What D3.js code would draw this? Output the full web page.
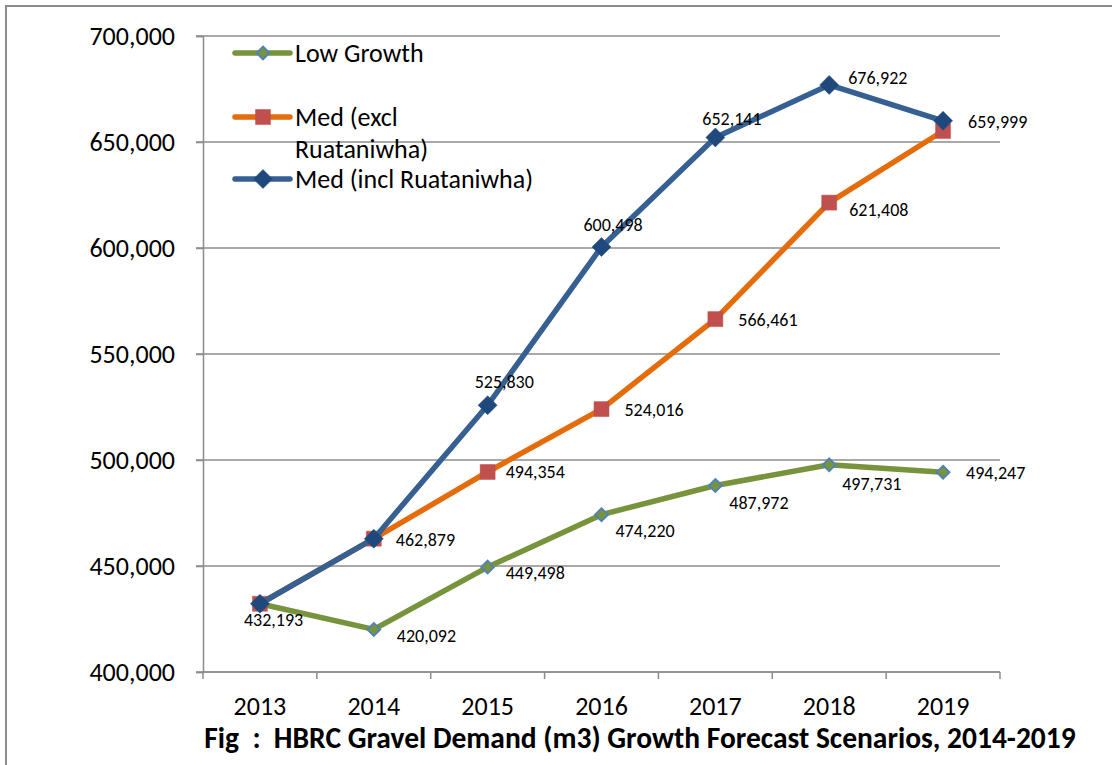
<!DOCTYPE html>
<html>
<head>
<meta charset="utf-8">
<script src="https://cdn.jsdelivr.net/npm/d3@7"></script>
<style>
  html, body { margin: 0; padding: 0; background: #ffffff; }
  svg { display: block; }
  text { font-family: Calibri, Carlito, Lato, "Open Sans", sans-serif; fill: #000; }
</style>
</head>
<body>
<svg id="chart" width="1112" height="765"></svg>
<script>
// Gravel demand forecasts (m3) by year
const years = ["2013", "2014", "2015", "2016", "2017", "2018", "2019"];
const lowGrowth = [432193, 420092, 449498, 474220, 487972, 497731, 494247];
const medExcl   = [432193, 462879, 494354, 524016, 566461, 621408, 655200];
const medIncl   = [432193, 462879, 525830, 600498, 652141, 676922, 659999];
const yTicks = [400000, 450000, 500000, 550000, 600000, 650000, 700000];

// Which points carry a value label, per series
const lowShown  = [true, true, true, true, true, true, true];
const exclShown = [false, true, true, true, true, true, false];
const inclShown = [false, false, true, true, true, true, true];

// Label nudges (dx, dy) from each point, text anchored at its start
const lowNudge  = [[-16, 22], [23, 13], [18, 12], [14, 22], [14, 24], [13, 25], [23, 7]];
const exclNudge = [[0, 0], [22, 7], [18, 6], [23, 7], [23, 7], [20, 13], [0, 0]];
const inclNudge = [[0, 0], [0, 0], [-13, -17], [-18, -16], [-13, -12], [19, -1], [25, 7]];

const svg = d3.select("#chart");
const plot = { left: 203, right: 1000, top: 36, bottom: 672 };
const gridColor = "#8c8c8c";
const axisFont = 26;

// Outer frame
svg.append("rect")
  .attr("x", 6).attr("y", 6)
  .attr("width", 1200).attr("height", 900)
  .attr("fill", "none")
  .attr("stroke", gridColor)
  .attr("stroke-width", 2);

const x = d3.scaleBand().domain(years).range([plot.left, plot.right]).paddingInner(0).paddingOuter(0);
const y = d3.scaleLinear().domain([400000, 700000]).range([plot.bottom, plot.top]);
const cx = d => x(d) + x.bandwidth() / 2;

// Horizontal gridlines
svg.append("g")
  .selectAll("line")
  .data(yTicks)
  .join("line")
  .attr("x1", plot.left - 7).attr("x2", plot.right)
  .attr("y1", d => y(d)).attr("y2", d => y(d))
  .attr("stroke", gridColor).attr("stroke-width", 1.5);

// Y axis
const fmt = d3.format(",");
const yAxis = svg.append("g")
  .attr("transform", `translate(${plot.left},0)`)
  .call(d3.axisLeft(y).tickValues(yTicks).tickFormat(fmt).tickSize(7).tickPadding(21));
yAxis.select(".domain").attr("stroke", gridColor).attr("stroke-width", 1.5);
yAxis.selectAll(".tick line").attr("stroke", gridColor).attr("stroke-width", 1.5);
yAxis.selectAll(".tick text")
  .style("font-family", "Calibri, Carlito, Lato, sans-serif")
  .attr("font-size", axisFont).attr("fill", "#000");

// X axis with ticks between categories
const xAxisG = svg.append("g").attr("transform", `translate(0,${plot.bottom})`);
xAxisG.append("line")
  .attr("x1", plot.left).attr("x2", plot.right)
  .attr("stroke", gridColor).attr("stroke-width", 1.5);
const boundaries = years.map(d => x(d)).concat([x(years[years.length - 1]) + x.bandwidth()]);
xAxisG.selectAll("line.tk")
  .data(boundaries)
  .join("line").attr("class", "tk")
  .attr("x1", d => d).attr("x2", d => d)
  .attr("y1", 0).attr("y2", 7)
  .attr("stroke", gridColor).attr("stroke-width", 1.5);
xAxisG.selectAll("text")
  .data(years)
  .join("text")
  .attr("x", d => cx(d)).attr("y", 43)
  .attr("text-anchor", "middle")
  .attr("font-size", axisFont)
  .text(d => d);

// Series styling
const styles = [
  { values: lowGrowth, line: "#77933C", marker: "diamond", size: 6.5, fill: "#77933C", stroke: "#4F81BD", sw: 1.8,
    shown: lowShown, nudge: lowNudge },
  { values: medExcl, line: "#E46C0A", marker: "square", size: 7.5, fill: "#C0504D", stroke: "#C0504D", sw: 0.5,
    shown: exclShown, nudge: exclNudge },
  { values: medIncl, line: "#376092", marker: "diamond", size: 9.5, fill: "#1F497D", stroke: "#1F497D", sw: 0.5,
    shown: inclShown, nudge: inclNudge }
];

function markerPath(kind, r) {
  if (kind === "diamond") return `M0,${-r}L${r},0L0,${r}L${-r},0Z`;
  return `M${-r},${-r}H${r}V${r}H${-r}Z`;
}

const line = d3.line().x((d, i) => cx(years[i])).y(d => y(d));

styles.forEach(s => {
  const g = svg.append("g");
  g.append("path")
    .datum(s.values)
    .attr("d", line)
    .attr("fill", "none")
    .attr("stroke", s.line)
    .attr("stroke-width", 5.5)
    .attr("stroke-linejoin", "round");
  g.selectAll("path.mk")
    .data(s.values)
    .join("path").attr("class", "mk")
    .attr("transform", (d, i) => `translate(${cx(years[i])},${y(d)})`)
    .attr("d", markerPath(s.marker, s.size))
    .attr("fill", s.fill)
    .attr("stroke", s.stroke)
    .attr("stroke-width", s.sw);
});

// Value labels
styles.forEach(s => {
  svg.append("g")
    .selectAll("text")
    .data(s.values.map((v, i) => ({ v, i })).filter(d => s.shown[d.i]))
    .join("text")
    .attr("x", d => cx(years[d.i]) + s.nudge[d.i][0])
    .attr("y", d => y(d.v) + s.nudge[d.i][1])
    .attr("font-size", 18)
    .text(d => fmt(d.v));
});

// Legend
const legend = svg.append("g");
const legendRows = [
  { y: 53, lines: ["Low Growth"], s: styles[0] },
  { y: 117, lines: ["Med (excl", "Ruataniwha)"], s: styles[1] },
  { y: 179, lines: ["Med (incl Ruataniwha)"], s: styles[2] }
];
legendRows.forEach(r => {
  legend.append("line")
    .attr("x1", 235).attr("x2", 290)
    .attr("y1", r.y).attr("y2", r.y)
    .attr("stroke", r.s.line).attr("stroke-width", 5.5)
    .attr("stroke-linecap", "round");
  legend.append("path")
    .attr("transform", `translate(263,${r.y})`)
    .attr("d", markerPath(r.s.marker, r.s.size))
    .attr("fill", r.s.fill).attr("stroke", r.s.stroke).attr("stroke-width", r.s.sw);
  r.lines.forEach((t, k) => {
    legend.append("text")
      .attr("x", 295).attr("y", r.y + 9 + k * 32)
      .attr("font-size", axisFont)
      .text(t);
  });
});

// Caption
svg.append("text")
  .attr("x", 640).attr("y", 748)
  .attr("text-anchor", "middle")
  .attr("font-size", 29.5)
  .attr("font-weight", "bold")
  .style("white-space", "pre")
  .text("Fig  :  HBRC Gravel Demand (m3) Growth Forecast Scenarios, 2014-2019");
</script>
</body>
</html>
